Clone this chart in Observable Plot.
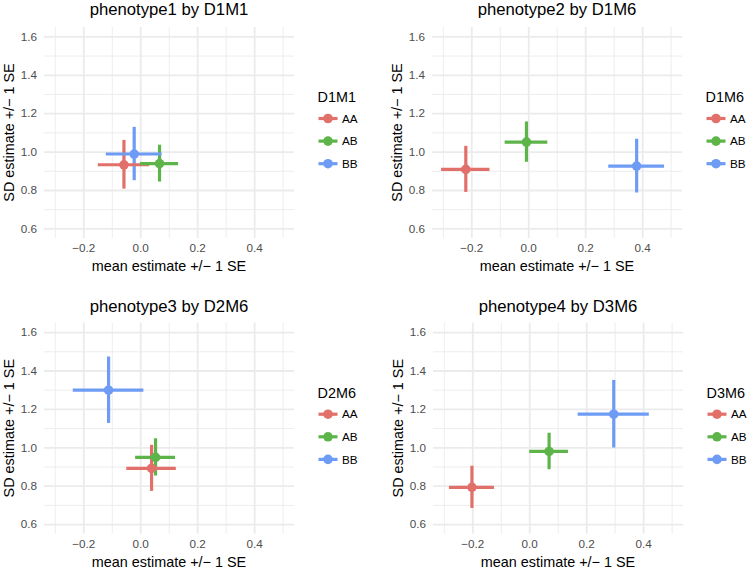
<!DOCTYPE html>
<html><head><meta charset="utf-8">
<script src="https://cdn.jsdelivr.net/npm/d3@7"></script>
<script src="https://cdn.jsdelivr.net/npm/@observablehq/plot@0.6"></script>
<style>
body{margin:0;background:#fff;}
#chart{position:relative;width:749px;height:569px;overflow:hidden;background:#fff;}
#chart svg{position:absolute;}
</style></head><body><div id="chart"></div>
<script>
// ---- data ----
const groups = ["AA", "AB", "BB"];
const titles = ["phenotype1 by D1M1", "phenotype2 by D1M6", "phenotype3 by D2M6", "phenotype4 by D3M6"];
const markers = ["D1M1", "D1M6", "D2M6", "D3M6"];
const meanEst = [[-0.059, 0.066, -0.023], [-0.221, -0.008, 0.379], [0.038, 0.052, -0.113], [-0.203, 0.068, 0.295]];
const meanSE  = [[0.090, 0.067, 0.098], [0.085, 0.075, 0.098], [0.087, 0.070, 0.124], [0.079, 0.068, 0.125]];
const sdEst   = [[0.934, 0.940, 0.990], [0.910, 1.052, 0.927], [0.893, 0.950, 1.300], [0.794, 0.981, 1.175]];
const sdSE    = [[0.127, 0.096, 0.139], [0.120, 0.105, 0.140], [0.120, 0.097, 0.173], [0.110, 0.095, 0.176]];
const xTicks = [-0.2, 0, 0.2, 0.4];
const xMinor = [-0.3, -0.1, 0.1, 0.3, 0.5];
const yTicks = [0.6, 0.8, 1.0, 1.2, 1.4, 1.6];
const yMinor = [0.7, 0.9, 1.1, 1.3, 1.5];
const xLabel = "mean estimate +/\u2212 1 SE";
const yLabel = "SD estimate +/\u2212 1 SE";

// ---- style / layout ----
const colors = ["#E2706A", "#5DB54A", "#6E9CF4"];
const font = "'Liberation Sans', Arial, Helvetica, sans-serif";
const PW = 250, PH = 211;
const layout = [
  {left: 0,   top: 0,   w: 374, h: 284, ml: 44, mt: 27,   titleY: 15},
  {left: 374, top: 0,   w: 375, h: 284, ml: 58, mt: 27,   titleY: 15},
  {left: 0,   top: 284, w: 374, h: 285, ml: 44, mt: 38.7, titleY: 28.3},
  {left: 374, top: 284, w: 375, h: 285, ml: 59, mt: 38.7, titleY: 28.3}
];
const fmt = d3.format(".1f");
const chart = document.getElementById("chart");

layout.forEach((L, i) => {
  const data = groups.map((g, j) => ({
    group: g, mean: meanEst[i][j], meanSE: meanSE[i][j], sd: sdEst[i][j], sdSE: sdSE[i][j]
  }));
  const svg = Plot.plot({
    width: L.w, height: L.h,
    marginLeft: L.ml, marginTop: L.mt,
    marginRight: L.w - L.ml - PW, marginBottom: L.h - L.mt - PH,
    style: {fontFamily: font, fontSize: "11.7px", color: "#4D4D4D", background: "transparent", overflow: "visible"},
    x: {domain: [-0.338, 0.540], label: null},
    y: {domain: [0.55, 1.649], label: null},
    color: {domain: groups, range: colors},
    marks: [
      Plot.gridX(xMinor, {stroke: "#EBEBEB", strokeOpacity: 1, strokeWidth: 0.9}),
      Plot.gridY(yMinor, {stroke: "#EBEBEB", strokeOpacity: 1, strokeWidth: 0.9}),
      Plot.gridX(xTicks, {stroke: "#EBEBEB", strokeOpacity: 1, strokeWidth: 1.8}),
      Plot.gridY(yTicks, {stroke: "#EBEBEB", strokeOpacity: 1, strokeWidth: 1.8}),
      Plot.axisX({ticks: xTicks, tickFormat: fmt, tickSize: 0, tickPadding: 5, label: null}),
      Plot.axisY({ticks: yTicks, tickFormat: fmt, tickSize: 0, tickPadding: 7.5, label: null}),
      Plot.ruleX(data, {x: "mean", y1: d => d.sd - d.sdSE, y2: d => d.sd + d.sdSE, stroke: "group", strokeWidth: 3.2}),
      Plot.ruleY(data, {y: "sd", x1: d => d.mean - d.meanSE, x2: d => d.mean + d.meanSE, stroke: "group", strokeWidth: 3.2}),
      Plot.dot(data, {x: "mean", y: "sd", fill: "group", r: 4.8})
    ]
  });
  svg.style.left = L.left + "px";
  svg.style.top = L.top + "px";
  const s = d3.select(svg);
  const cx = L.ml + PW / 2, cy = L.mt + PH / 2, right = L.ml + PW;
  // title
  s.append("text").attr("x", cx).attr("y", L.titleY).attr("text-anchor", "middle")
    .attr("font-family", font).attr("font-size", "16.7px").attr("fill", "#000").text(titles[i]);
  // axis titles
  s.append("text").attr("x", cx).attr("y", L.mt + PH + 33).attr("text-anchor", "middle")
    .attr("font-family", font).attr("font-size", "14.4px").attr("fill", "#000").text(xLabel);
  s.append("text").attr("transform", `translate(${L.ml - 30.5},${cy}) rotate(-90)`).attr("text-anchor", "middle")
    .attr("font-family", font).attr("font-size", "14.4px").attr("fill", "#000").text(yLabel);
  // legend
  const lg = s.append("g").attr("text-anchor", "start");
  lg.append("text").attr("x", right + 23.5).attr("y", cy - 35.8).attr("dy", "0.36em").attr("text-anchor", "start")
    .attr("font-family", font).attr("font-size", "14.4px").attr("fill", "#000").text(markers[i]);
  groups.forEach((g, j) => {
    const ky = cy - 14 + j * 22.6;
    lg.append("line").attr("x1", right + 24.5).attr("x2", right + 43.5).attr("y1", ky).attr("y2", ky)
      .attr("stroke", colors[j]).attr("stroke-width", 3.2);
    lg.append("circle").attr("cx", right + 34).attr("cy", ky).attr("r", 4.8).attr("fill", colors[j]);
    lg.append("text").attr("x", right + 48).attr("y", ky).attr("dy", "0.36em").attr("text-anchor", "start")
      .attr("font-family", font).attr("font-size", "11.7px").attr("fill", "#000").text(g);
  });
  chart.appendChild(svg);
});
</script></body></html>
